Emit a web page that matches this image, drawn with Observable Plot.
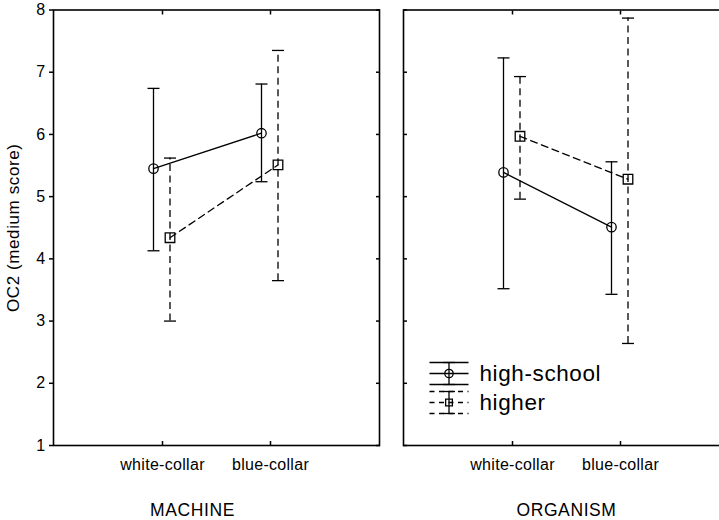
<!DOCTYPE html>
<html><head><meta charset="utf-8">
<script src="https://cdn.jsdelivr.net/npm/d3@7"></script>
<script src="https://cdn.jsdelivr.net/npm/@observablehq/plot@0.6"></script>
<style>
html,body{margin:0;padding:0;background:#fff;}
#chart{position:relative;width:719px;height:520px;overflow:hidden;background:#fff;}
#chart svg{position:absolute;top:0;}
#chart svg text{letter-spacing:0.6px;}
#chart svg g[aria-label="x-axis tick label"] text,
#chart svg g[aria-label="y-axis tick label"] text{letter-spacing:0.3px;font-size:16px;}
</style></head><body><div id="chart"></div>
<script>
// ---- data ----
const panels = ["MACHINE", "ORGANISM"];
const categories = ["white-collar", "blue-collar"];
const seriesNames = ["high-school", "higher"];
const yTicks = [1, 2, 3, 4, 5, 6, 7, 8];
const yLabel = "OC2 (medium score)";

// values per category: [white-collar, blue-collar]
const machineHighSchoolMean = [5.45, 6.02];
const machineHighSchoolLow  = [4.13, 5.24];
const machineHighSchoolHigh = [6.74, 6.81];
const machineHigherMean     = [4.34, 5.51];
const machineHigherLow      = [3.00, 3.65];
const machineHigherHigh     = [5.62, 7.35];

const organismHighSchoolMean = [5.39, 4.51];
const organismHighSchoolLow  = [3.52, 3.43];
const organismHighSchoolHigh = [7.23, 5.56];
const organismHigherMean     = [5.97, 5.28];
const organismHigherLow      = [4.96, 2.64];
const organismHigherHigh     = [6.93, 7.87];

const table = {
  "MACHINE": {
    "high-school": [machineHighSchoolMean, machineHighSchoolLow, machineHighSchoolHigh],
    "higher": [machineHigherMean, machineHigherLow, machineHigherHigh]
  },
  "ORGANISM": {
    "high-school": [organismHighSchoolMean, organismHighSchoolLow, organismHighSchoolHigh],
    "higher": [organismHigherMean, organismHigherLow, organismHigherHigh]
  }
};
const rows = [];
for (const p of panels) for (const s of seriesNames) {
  const [m, lo, hi] = table[p][s];
  categories.forEach((c, i) => rows.push({panel: p, series: s, category: c, mean: m[i], low: lo[i], high: hi[i]}));
}

// ---- styles ----
const FONT = "'Liberation Sans', Arial, Helvetica, sans-serif";
const style = {
  "high-school": {symbol: "circle", r: 4.7, dash: null, dx: -9},
  "higher": {symbol: "square", r: 5.4, dash: "7,4.5", dx: 7.5}
};
const hline = (h) => ({draw(ctx) { ctx.moveTo(-h, 0); ctx.lineTo(h, 0); }});
const vline = (h) => ({draw(ctx) { ctx.moveTo(0, -h); ctx.lineTo(0, h); }});
const cap = hline(6);
const LW = 1.3;

function seriesMarks(data, s) {
  const st = style[s];
  const r = data.filter(d => d.series === s);
  return [
    Plot.ruleX(r, {x: "category", y1: "low", y2: "high", dx: st.dx, stroke: "#000", strokeWidth: LW, strokeDasharray: st.dash}),
    Plot.line(r, {x: "category", y: "mean", dx: st.dx, stroke: "#000", strokeWidth: LW, strokeDasharray: st.dash}),
    Plot.dot(r, {x: "category", y: "low", dx: st.dx, symbol: cap, fill: "none", stroke: "#000", strokeWidth: LW}),
    Plot.dot(r, {x: "category", y: "high", dx: st.dx, symbol: cap, fill: "none", stroke: "#000", strokeWidth: LW}),
    Plot.dot(r, {x: "category", y: "mean", dx: st.dx, symbol: st.symbol, r: st.r, fill: "none", stroke: "#000", strokeWidth: LW})
  ];
}

function legendMarks() {
  const out = [];
  seriesNames.forEach((s, i) => {
    const st = style[s];
    const dy = -72 + 29 * i;
    const base = {frameAnchor: "bottom-left", dx: 45.5, fill: "none", stroke: "#000", strokeWidth: LW};
    for (const off of [-11, 0, 11]) {
      out.push(Plot.dot([s], {...base, dy: dy + off, symbol: hline(19.5), strokeDasharray: st.dash ? "5,4.5" : null}));
    }
    out.push(Plot.dot([s], {...base, dy: dy - 11, symbol: cap}));
    out.push(Plot.dot([s], {...base, dy: dy + 11, symbol: cap}));
    out.push(Plot.dot([s], {...base, dy, symbol: vline(11)}));
    out.push(Plot.dot([s], {...base, dy, symbol: st.symbol, r: st.symbol === "circle" ? 4.2 : 3.8}));
    out.push(Plot.text([s], {frameAnchor: "bottom-left", dx: 76, dy, text: d => d, textAnchor: "start", lineAnchor: "middle", fontSize: 22.5, fill: "#000"}));
  });
  return out;
}

function panelPlot(panel, {left, width, marginLeft, marginRight, first}) {
  const data = rows.filter(d => d.panel === panel);
  const marks = [
    Plot.frame({stroke: "#000", strokeWidth: 1.6}),
    Plot.axisX({anchor: "top", tickSize: -4, tickFormat: () => "", label: null, strokeWidth: 1.5}),
    Plot.axisX({anchor: "bottom", tickSize: -4, tickPadding: 17, label: null, strokeWidth: 1.5}),
    ...seriesMarks(data, "high-school"),
    ...seriesMarks(data, "higher"),
    Plot.text([panel], {frameAnchor: "bottom", dx: first ? -24 : 0, dy: 65, text: d => d, textAnchor: "middle", lineAnchor: "middle", fontSize: 17.5, fill: "#000"})
  ];
  if (first) {
    marks.push(
      Plot.axisY({anchor: "left", ticks: yTicks, tickFormat: "d", tickSize: 4, tickPadding: 4, label: null, strokeWidth: 1.5}),
      Plot.axisY({anchor: "right", ticks: yTicks, tickSize: -4, tickFormat: () => "", label: null, strokeWidth: 1.5}),
      Plot.text([yLabel], {frameAnchor: "left", dx: -40, rotate: -90, text: d => d, textAnchor: "middle", lineAnchor: "middle", fontSize: 17, fill: "#000"})
    );
  } else {
    marks.push(
      Plot.axisY({anchor: "left", ticks: yTicks, tickSize: -4, tickFormat: () => "", label: null, strokeWidth: 1.5}),
      ...legendMarks()
    );
  }
  const svg = Plot.plot({
    width, height: 520,
    marginLeft, marginRight, marginTop: 9.5, marginBottom: 75,
    style: {fontFamily: FONT, fontSize: "15px", background: "transparent", color: "#000"},
    x: {type: "point", domain: categories, padding: 1},
    y: {domain: [1, 8]},
    marks
  });
  svg.style.left = left + "px";
  return svg;
}

const chart = document.getElementById("chart");
chart.appendChild(panelPlot("MACHINE", {left: 0, width: 390, marginLeft: 53, marginRight: 11, first: true}));
chart.appendChild(panelPlot("ORGANISM", {left: 390, width: 350, marginLeft: 13, marginRight: 11, first: false}));
</script></body></html>
